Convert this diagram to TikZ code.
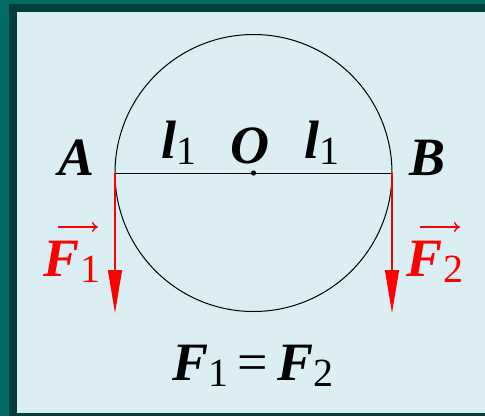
\documentclass[tikz,border=0pt]{standalone}
\usepackage{fontspec}
\setmainfont{Liberation Serif}
\usetikzlibrary{arrows.meta}
\definecolor{teal0}{HTML}{006B66}
\definecolor{darkteal}{HTML}{003F3C}
\definecolor{panel}{HTML}{DAEEF3}
\definecolor{fred}{HTML}{FF0000}
\newcommand{\sbs}[1]{\raisebox{-0.12em}{\fontsize{40}{40}\selectfont\mdseries\upshape #1}}
\begin{document}
\begin{tikzpicture}[x=1pt,y=1pt,
  lbl/.style={inner sep=0pt,font=\fontsize{54}{54}\selectfont\bfseries\itshape},
  flbl/.style={lbl,text=fred},
  force/.style={draw=fred,line width=1.2pt,-{Triangle[length=43pt,width=14pt]}},
  vecarrow/.style={draw=fred,line width=1.4pt,-{To[length=6pt,width=10pt]}}]
\useasboundingbox (0,0) rectangle (485,-416);
\fill[teal0] (0,0) rectangle (485,-416);
\fill[darkteal] (9,-4) rectangle (485,-416);
\fill[panel] (17,-12) rectangle (485,-413);
% circle
\coordinate (O) at (253.5,-173);
\draw[line width=1pt] (O) circle (138.5);
\coordinate (A) at (115,-173);
\coordinate (B) at (392,-173);
\coordinate (Aend) at (115,-313);
\coordinate (Bend) at (392,-313);
\draw[line width=1pt] (A) -- (B);
\fill (O) circle (2.6);
\draw[force] (A) -- (Aend);
\draw[force] (B) -- (Bend);
% labels
\node[lbl,anchor=base] (lA) at (77,-175) {A};
\node[lbl,anchor=base] (lB) at (428,-175) {B};
\node[lbl,anchor=base] (lO) at (250,-163) {O};
\node[lbl,anchor=base] (l1a) at (179,-158) {l\sbs{1}};
\node[lbl,anchor=base] (l1b) at (322,-158) {l\sbs{1}};
\node[flbl,anchor=base] (F1) at (72,-276) {F\sbs{1}};
\node[flbl,anchor=base] (F2) at (435,-276) {F\sbs{2}};
\coordinate (v1s) at (58,-227);
\coordinate (v1e) at (98,-227);
\coordinate (v2s) at (420,-227);
\coordinate (v2e) at (460,-227);
\draw[vecarrow] (v1s) -- (v1e);
\draw[vecarrow] (v2s) -- (v2e);
\node[lbl,anchor=base] (eq) at (253,-380) {F\sbs{1}\,{\mdseries\upshape =}\,F\sbs{2}};
\end{tikzpicture}
\end{document}
